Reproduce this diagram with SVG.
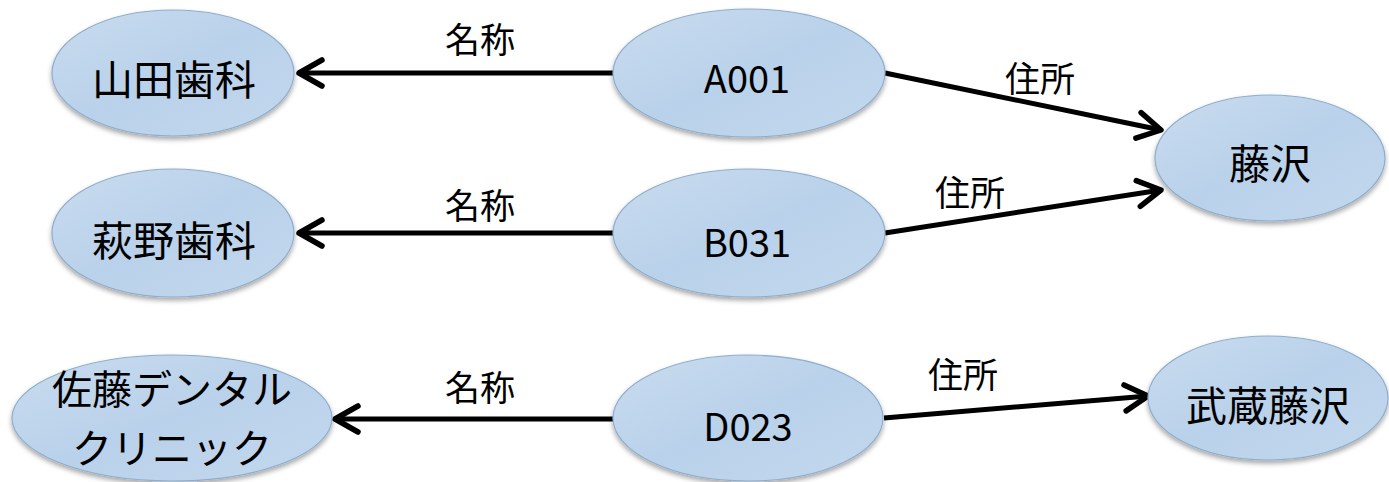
<svg xmlns="http://www.w3.org/2000/svg" width="1389" height="482" viewBox="0 0 1389 482">
<defs>
  <linearGradient id="g" x1="0" y1="0" x2="1" y2="1">
    <stop offset="0" stop-color="#c9dcef"/>
    <stop offset="0.5" stop-color="#b9d1ea"/>
    <stop offset="1" stop-color="#c3d8ee"/>
  </linearGradient>
  <filter id="sh" x="-10%" y="-10%" width="120%" height="130%">
    <feDropShadow dx="0" dy="3" stdDeviation="2.5" flood-color="#000" flood-opacity="0.35"/>
  </filter>
  <marker id="ah" markerUnits="userSpaceOnUse" markerWidth="40" markerHeight="40" viewBox="-30 -20 40 40" refX="0" refY="0" orient="auto">
    <path d="M -23 -13 L 0 0 L -23 13" fill="none" stroke="#000" stroke-width="5.5" stroke-linecap="round" stroke-linejoin="round"/>
  </marker>
</defs>
<style>
  .n { fill: url(#g); stroke: #8eadcc; stroke-width: 1.2; filter: url(#sh); }
  .t { font-family: "Noto Sans CJK JP", "Noto Sans", sans-serif; font-size: 41px; fill: #000; text-anchor: middle; dominant-baseline: central; }
  .s { font-family: "Noto Sans CJK JP", "Noto Sans", sans-serif; font-size: 40px; fill: #000; text-anchor: middle; dominant-baseline: central; }
  .a { font-family: "Noto Sans CJK JP", "Noto Sans", sans-serif; font-size: 38px; fill: #000; text-anchor: middle; dominant-baseline: central; }
  .l { font-family: "Noto Sans CJK JP", "Noto Sans", sans-serif; font-size: 35px; fill: #000; text-anchor: middle; dominant-baseline: central; }
  .e { stroke: #000; stroke-width: 5; fill: none; marker-end: url(#ah); }
</style>
<g id="connectors">
  <line class="e" x1="613" y1="73" x2="299" y2="73"/>
  <line class="e" x1="885" y1="73" x2="1161" y2="130"/>
  <line class="e" x1="613" y1="233" x2="299" y2="233"/>
  <line class="e" x1="885" y1="233" x2="1161" y2="190"/>
  <line class="e" x1="613" y1="419" x2="335" y2="419"/>
  <line class="e" x1="884" y1="418" x2="1148" y2="396"/>
  <text class="l" x="1040" y="76">住所</text>
  <text class="l" x="480" y="37">名称</text>
  <text class="l" x="480" y="203">名称</text>
  <text class="l" x="970" y="190">住所</text>
  <text class="l" x="480" y="385">名称</text>
  <text class="l" x="963" y="372">住所</text>
</g>
<g id="node-yamada">
  <ellipse class="n" cx="173" cy="73" rx="121" ry="63"/>
  <text class="t" x="174" y="77">山田歯科</text>
</g>
<g id="node-a001">
  <ellipse class="n" cx="749" cy="73" rx="136" ry="64"/>
  <text class="a" x="747" y="76">A001</text>
</g>
<g id="node-fujisawa">
  <ellipse class="n" cx="1270" cy="158" rx="115" ry="63"/>
  <text class="t" x="1270" y="161">藤沢</text>
</g>
<g id="node-hagino">
  <ellipse class="n" cx="173" cy="233" rx="121" ry="64"/>
  <text class="t" x="174" y="238">萩野歯科</text>
</g>
<g id="node-b031">
  <ellipse class="n" cx="749" cy="233" rx="136" ry="64"/>
  <text class="a" x="747" y="240">B031</text>
</g>
<g id="node-sato">
  <ellipse class="n" cx="172" cy="418" rx="160" ry="63"/>
  <text class="s" x="172" y="387">佐藤デンタル</text>
  <text class="s" x="172" y="446">クリニック</text>
</g>
<g id="node-d023">
  <ellipse class="n" cx="748" cy="418" rx="135" ry="63"/>
  <text class="a" x="748" y="424">D023</text>
</g>
<g id="node-musashi">
  <ellipse class="n" cx="1268" cy="398" rx="120" ry="62"/>
  <text class="t" x="1268" y="403">武蔵藤沢</text>
</g>
</svg>
